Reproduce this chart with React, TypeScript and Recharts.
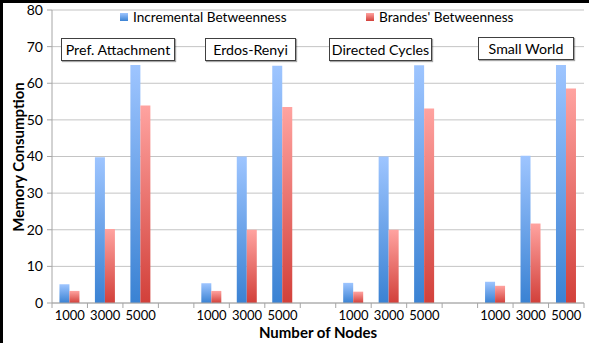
import React from "react";
import { BarChart, Bar, XAxis, YAxis, CartesianGrid } from "recharts";

const groups = ["Pref. Attachment", "Erdos-Renyi", "Directed Cycles", "Small World"];
const nodeCounts = ["1000", "3000", "5000"];
const incremental = [
  [5.1, 39.8, 65],
  [5.4, 40, 64.8],
  [5.5, 40, 64.9],
  [5.8, 40.2, 65],
];
const brandes = [
  [3.3, 20.2, 53.9],
  [3.3, 20, 53.5],
  [3.1, 20, 53.1],
  [4.7, 21.7, 58.6],
];
const yTicks = [0, 10, 20, 30, 40, 50, 60, 70, 80];
const seriesNames = ["Incremental Betweenness", "Brandes' Betweenness"];

type Row = { label: string; inc: number | null; bra: number | null };
const data: Row[] = [];
groups.forEach((g, gi) => {
  nodeCounts.forEach((n, ni) => {
    data.push({ label: n, inc: incremental[gi][ni], bra: brandes[gi][ni] });
  });
  if (gi < groups.length - 1) data.push({ label: "", inc: null, bra: null });
});

const W = 589;
const H = 343;
const MARGIN = { top: 10, right: 5, bottom: 10, left: 0 };
const Y_W = 52;
const PLOT_W = W - MARGIN.left - MARGIN.right - Y_W;
const BAND = PLOT_W / data.length;
const FONT = "Lato, 'Open Sans', sans-serif";
const AXIS_GRAY = "#A6A6A6";

const XTick = (props: any) => {
  const { x, y, payload, index } = props;
  const ay = y - 2;
  const last = index === data.length - 1;
  return (
    <g>
      <line x1={x - BAND / 2} x2={x - BAND / 2} y1={ay} y2={ay + 5} stroke={AXIS_GRAY} />
      {last && <line x1={x + BAND / 2} x2={x + BAND / 2} y1={ay} y2={ay + 5} stroke={AXIS_GRAY} />}
      <text x={x} y={ay + 8} dy="0.71em" textAnchor="middle" fontSize={13} fontFamily={FONT} fill="#000">
        {payload.value}
      </text>
    </g>
  );
};

const groupBoxes = [
  { left: 61, top: 38, width: 114 },
  { left: 205, top: 38, width: 91 },
  { left: 329, top: 38, width: 103 },
  { left: 478, top: 37, width: 96 },
];

export default function App() {
  return (
    <div style={{ position: "absolute", left: 0, top: 0, width: W, height: H, background: "#fff", fontFamily: FONT }}>
      <BarChart width={W} height={H} data={data} margin={MARGIN} barCategoryGap="21%" barGap={0}>
        <defs>
          <linearGradient id="gradBlue" x1="0" y1="0" x2="0" y2="1">
            <stop offset="0%" stopColor="#9EC5FF" />
            <stop offset="100%" stopColor="#3A82D3" />
          </linearGradient>
          <linearGradient id="gradRed" x1="0" y1="0" x2="0" y2="1">
            <stop offset="0%" stopColor="#FFA3A0" />
            <stop offset="100%" stopColor="#D2403A" />
          </linearGradient>
        </defs>
        <CartesianGrid vertical={false} stroke="#C4C4C4" />
        <XAxis
          dataKey="label"
          tickLine={false}
          tickSize={0}
          tickMargin={2}
          height={30}
          stroke={AXIS_GRAY}
          interval={0}
          tick={<XTick />}
        />
        <YAxis
          width={Y_W}
          domain={[0, 80]}
          ticks={yTicks}
          tickSize={5}
          tickMargin={4}
          stroke={AXIS_GRAY}
          tick={{ fill: "#000", fontSize: 14, fontFamily: FONT }}
        />
        <Bar dataKey="inc" name={seriesNames[0]} fill="url(#gradBlue)" isAnimationActive={false} />
        <Bar dataKey="bra" name={seriesNames[1]} fill="url(#gradRed)" isAnimationActive={false} />
      </BarChart>

      {/* legend */}
      <div style={{ position: "absolute", left: 120, top: 9, display: "flex", alignItems: "center", fontSize: 13.6, color: "#000", whiteSpace: "nowrap" }}>
        <span style={{ width: 8, height: 8, background: "linear-gradient(#9EC5FF,#3A82D3)", marginRight: 5, display: "inline-block" }} />
        {seriesNames[0]}
      </div>
      <div style={{ position: "absolute", left: 366, top: 9, display: "flex", alignItems: "center", fontSize: 13.6, color: "#000", whiteSpace: "nowrap" }}>
        <span style={{ width: 8, height: 8, background: "linear-gradient(#FFA3A0,#D2403A)", marginRight: 5, display: "inline-block" }} />
        {seriesNames[1]}
      </div>

      {/* group labels */}
      {groups.map((g, i) => (
        <div
          key={g}
          style={{
            position: "absolute",
            left: groupBoxes[i].left,
            top: groupBoxes[i].top,
            width: groupBoxes[i].width,
            height: 23,
            boxSizing: "border-box",
            border: "1px solid #404040",
            boxShadow: "1px 1px 1px rgba(0,0,0,0.35)",
            background: "#fff",
            fontSize: 14.2,
            lineHeight: "21px",
            textAlign: "center",
            color: "#000",
            whiteSpace: "nowrap",
          }}
        >
          {g}
        </div>
      ))}

      {/* axis titles */}
      <div style={{ position: "absolute", left: 0, width: W - 5 + 52, top: 323, textAlign: "center", fontSize: 15, fontWeight: 700, color: "#000" }}>
        Number of Nodes
      </div>
      <div
        style={{
          position: "absolute",
          left: 18,
          top: 157,
          transform: "translate(-50%, -50%) rotate(-90deg)",
          fontSize: 15,
          fontWeight: 700,
          color: "#000",
          whiteSpace: "nowrap",
        }}
      >
        Memory Consumption
      </div>

      {/* frame */}
      <div style={{ position: "absolute", left: 0, top: 0, width: W, height: 3, background: "#000" }} />
      <div style={{ position: "absolute", left: 0, top: 0, width: 3, height: H, background: "#000" }} />
    </div>
  );
}
